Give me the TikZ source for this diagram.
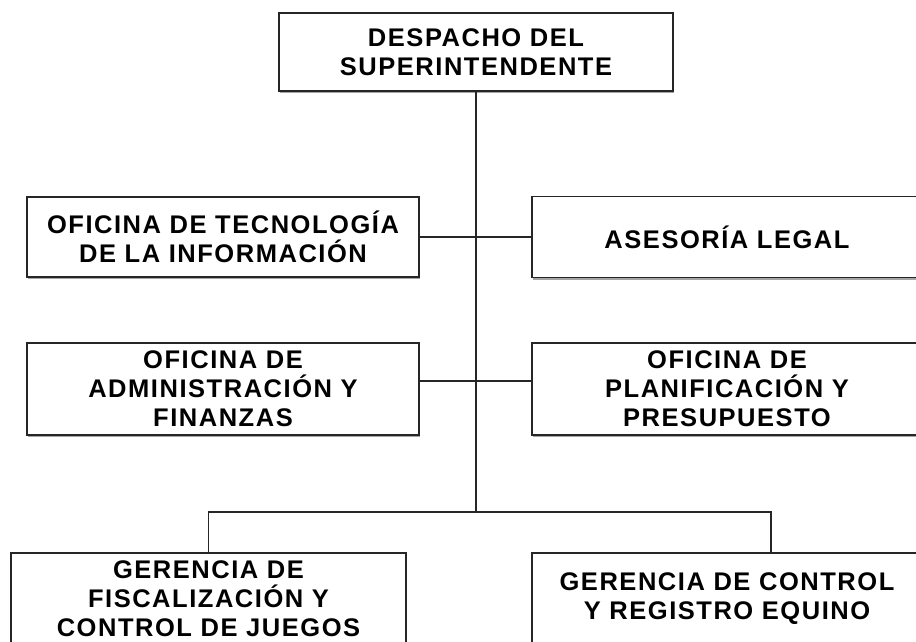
\documentclass[tikz,border=0pt]{standalone}
\usepackage{fontspec}
\newfontfamily\orgfont{Liberation Sans}[LetterSpace=6]
\usetikzlibrary{shadows}
\begin{document}
\begin{tikzpicture}[x=1pt,y=-1pt,
        unidad/.style={draw=black!85,line width=1.5pt,fill=white,inner sep=0pt,align=center,
            font=\orgfont\fontsize{25.5}{29}\selectfont\bfseries,
            drop shadow={shadow xshift=0.8pt,shadow yshift=-2pt,fill=black!70}},
        enlace/.style={draw=black!85,line width=1.6pt}]
    \useasboundingbox (0,0) rectangle (916,641);
    \node[unidad,minimum width=394pt,minimum height=78pt] (despacho) at (476,52) {DESPACHO DEL\\SUPERINTENDENTE};
    \node[unidad,minimum width=392pt,minimum height=80pt] (tecno) at (223,237) {OFICINA DE TECNOLOG\'IA\\DE LA INFORMACI\'ON};
    \node[unidad,minimum width=390pt,minimum height=81pt] (legal) at (727,237) {ASESOR\'IA LEGAL};
    \node[unidad,minimum width=392pt,minimum height=92pt] (admin) at (223,389) {OFICINA DE\\ADMINISTRACI\'ON Y\\FINANZAS};
    \node[unidad,minimum width=390pt,minimum height=92pt] (plan) at (727,389) {OFICINA DE\\PLANIFICACI\'ON Y\\PRESUPUESTO};
    \node[unidad,minimum width=395pt,minimum height=92pt] (fiscal) at (208.5,599) {GERENCIA DE\\FISCALIZACI\'ON Y\\CONTROL DE JUEGOS};
    \node[unidad,minimum width=390pt,minimum height=92pt] (equino) at (727,599) {GERENCIA DE CONTROL\\Y REGISTRO EQUINO};
    \coordinate (tronco) at (476,512);
    \coordinate (fila) at (476,381);
    \coordinate (bajada) at (771,512);
    \draw[enlace] (despacho.south) -- (tronco);
    \draw[enlace] (tecno.east) -- (legal.west);
    \draw[enlace] (admin.east |- fila) -- (plan.west |- fila);
    \draw[enlace] (fiscal.north) |- (bajada) -- (equino.north -| bajada);
\end{tikzpicture}
\end{document}
